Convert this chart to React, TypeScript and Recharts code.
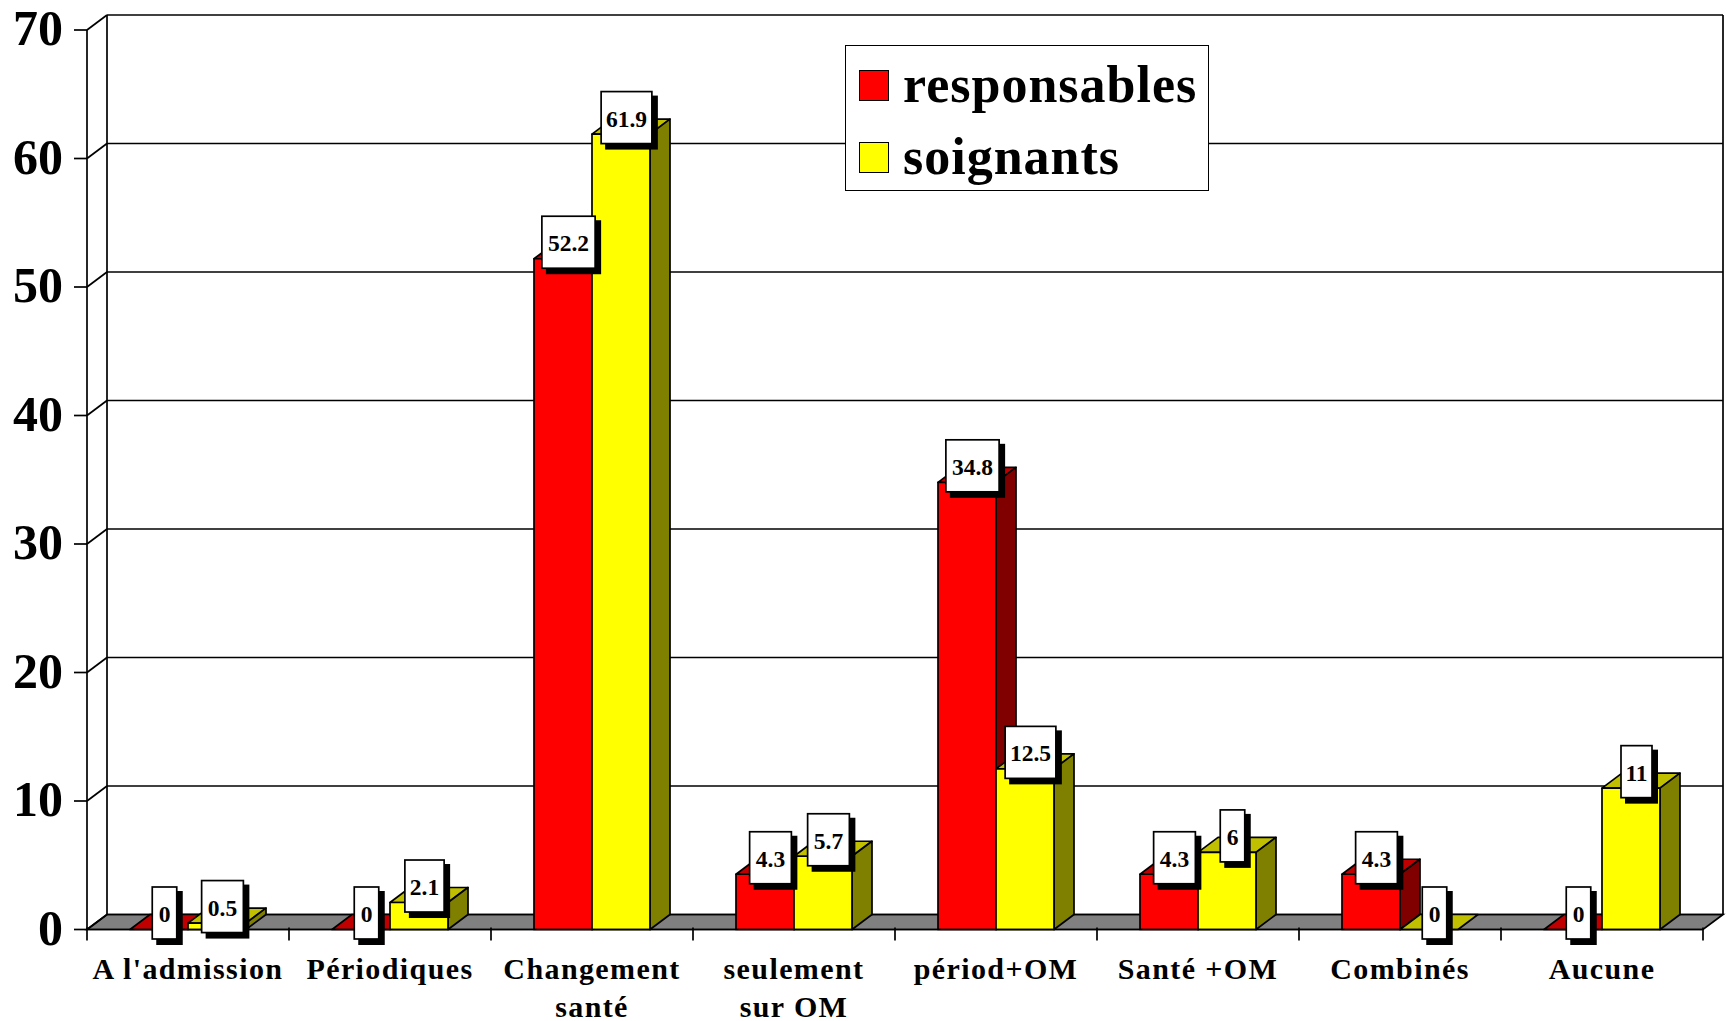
import React from "react";
import { BarChart, Bar, XAxis, YAxis, CartesianGrid, Legend, LabelList } from "recharts";

const categories = [
  "A l'admission",
  "Périodiques",
  "Changement\nsanté",
  "seulement\nsur OM",
  "périod+OM",
  "Santé +OM",
  "Combinés",
  "Aucune",
];
const responsables = [0, 0, 52.2, 4.3, 34.8, 4.3, 4.3, 0];
const soignants = [0.5, 2.1, 61.9, 5.7, 12.5, 6, 0, 11];
const yTicks = [0, 10, 20, 30, 40, 50, 60, 70];

const rows = categories.map((name, i) => ({
  name,
  responsables: responsables[i],
  soignants: soignants[i],
}));

const SERIF = "'Liberation Serif', serif";
const INK = "#000";
const LINE = 1.7;
const DX = 20; // depth of the 3D box, to the right
const DY = 15; // depth of the 3D box, upwards

const darkRed = { top: "#C00000", side: "#800000" };
const darkYellow = { top: "#C0C000", side: "#808000" };

function Box3D(props: any) {
  const { x, y, width, height, fill, shades } = props;
  const r = x + width;
  const b = y + height;
  return (
    <g stroke={INK} strokeWidth={LINE} strokeLinejoin="round">
      <polygon points={`${x},${y} ${x + DX},${y - DY} ${r + DX},${y - DY} ${r},${y}`} fill={shades.top} />
      {height > 0 && (
        <>
          <polygon points={`${r},${y} ${r + DX},${y - DY} ${r + DX},${b - DY} ${r},${b}`} fill={shades.side} />
          <rect x={x} y={y} width={width} height={height} fill={fill} />
        </>
      )}
    </g>
  );
}

// Label box width follows the digits it holds; the "1" glyph is set narrower.
function boxWidth(text: string) {
  let w = 13;
  for (const c of text) w += c === "." ? 5.75 : c === "1" ? 9 : 11.5;
  return w;
}

function ValueTag(props: any) {
  const { x, y, width, value } = props;
  const text = String(value);
  const w = boxWidth(text);
  const h = 52;
  const cx = x + width / 2 + 5.5;
  const cy = y - 16.5;
  return (
    <g>
      <rect x={cx - w / 2 + 4} y={cy - h / 2 + 4} width={w + 2} height={h + 2} fill={INK} />
      <rect x={cx - w / 2} y={cy - h / 2} width={w} height={h} fill="#fff" stroke={INK} strokeWidth={LINE} />
      <text
        x={cx}
        y={cy + 9}
        textAnchor="middle"
        fontFamily={SERIF}
        fontWeight="bold"
        fontSize={23.5}
        fill={INK}
      >
        {text}
      </text>
    </g>
  );
}

function WallLine(props: any) {
  const { x, y, width, height, x1, y1, x2, key } = props;
  const bottom = y + height;
  const isFloor = Math.abs(y1 - bottom) < 0.5;
  const isTop = Math.abs(y1 - y) < 0.5;
  return (
    <g key={key} stroke={INK} strokeWidth={LINE} fill="none">
      {isFloor && (
        <polygon
          points={`${x1},${y1} ${x1 + DX},${y1 - DY} ${x2 + DX},${y1 - DY} ${x2},${y1}`}
          fill="#808080"
        />
      )}
      {isTop && (
        <>
          <line x1={x + DX} y1={y - DY} x2={x + DX} y2={bottom - DY} />
          <line x1={x + width + DX} y1={y - DY} x2={x + width + DX} y2={bottom - DY} />
        </>
      )}
      <line x1={x1} y1={y1} x2={x1 + DX} y2={y1 - DY} />
      <line x1={x1 + DX} y1={y1 - DY} x2={x2 + DX} y2={y1 - DY} />
    </g>
  );
}

function ValueTick(props: any) {
  const { x, y, payload } = props;
  return (
    <text
      x={x}
      y={y + 15}
      textAnchor="end"
      fontFamily={SERIF}
      fontWeight="bold"
      fontSize={50}
      fill={INK}
    >
      {payload.value}
    </text>
  );
}

function CategoryTick(props: any) {
  const { x, y, payload, width, index } = props;
  const band = width / categories.length;
  const top = y - 10;
  const lines = String(payload.value).split("\n");
  return (
    <g>
      <line x1={x - band / 2} y1={top} x2={x - band / 2} y2={top + 13} stroke={INK} strokeWidth={LINE} />
      {index === categories.length - 1 && (
        <line x1={x + band / 2} y1={top} x2={x + band / 2} y2={top + 13} stroke={INK} strokeWidth={LINE} />
      )}
      {lines.map((line, i) => (
        <text
          key={line}
          x={x}
          y={top + 51 + i * 38}
          textAnchor="middle"
          fontFamily={SERIF}
          fontWeight="bold"
          fontSize={30}
          letterSpacing={1.4}
          fill={INK}
        >
          {line}
        </text>
      ))}
    </g>
  );
}

function LegendPanel({ payload }: any) {
  return (
    <div
      style={{
        boxSizing: "border-box",
        width: 364,
        height: 146,
        background: "#fff",
        border: "1.7px solid #000",
        position: "relative",
        fontFamily: SERIF,
        fontWeight: "bold",
        fontSize: 52,
        letterSpacing: 1,
        color: "#000",
      }}
    >
      {(payload || []).map((entry: any, i: number) => (
        <div key={entry.value}>
          <div
            style={{
              position: "absolute",
              boxSizing: "border-box",
              left: 13,
              top: 24 + i * 72,
              width: 30,
              height: 31,
              background: entry.color,
              border: "1.7px solid #000",
            }}
          />
          <div style={{ position: "absolute", left: 57, top: 9 + i * 71.5, lineHeight: "60px", whiteSpace: "nowrap" }}>
            {entry.value}
          </div>
        </div>
      ))}
    </div>
  );
}

export default function App() {
  return (
    <div style={{ position: "absolute", left: 0, top: 0, width: 1727, height: 1021, background: "#fff" }}>
      <BarChart
        width={1727}
        height={1021}
        data={rows}
        margin={{ top: 30, right: 24, bottom: 31.5, left: 0 }}
        barCategoryGap={43}
        barGap={0}
      >
        <CartesianGrid vertical={false} horizontal={WallLine as any} />
        <XAxis
          dataKey="name"
          height={60}
          interval={0}
          tickLine={false}
          axisLine={{ stroke: INK, strokeWidth: LINE }}
          tick={CategoryTick as any}
        />
        <YAxis
          width={87}
          domain={[0, 70]}
          ticks={yTicks}
          tickSize={13}
          tickMargin={11}
          tickLine={{ stroke: INK, strokeWidth: LINE }}
          axisLine={{ stroke: INK, strokeWidth: LINE }}
          tick={ValueTick as any}
        />
        <Legend
          layout="vertical"
          align="center"
          verticalAlign="middle"
          wrapperStyle={{ position: "absolute", left: 845, top: 45, width: 364, height: 146 }}
          content={LegendPanel as any}
        />
        <Bar
          dataKey="responsables"
          fill="#FF0000"
          barSize={58}
          isAnimationActive={false}
          shape={(p: any) => <Box3D {...p} shades={darkRed} />}
        >
          <LabelList dataKey="responsables" content={ValueTag as any} />
        </Bar>
        <Bar
          dataKey="soignants"
          fill="#FFFF00"
          barSize={58}
          isAnimationActive={false}
          shape={(p: any) => <Box3D {...p} shades={darkYellow} />}
        >
          <LabelList dataKey="soignants" content={ValueTag as any} />
        </Bar>
      </BarChart>
    </div>
  );
}
